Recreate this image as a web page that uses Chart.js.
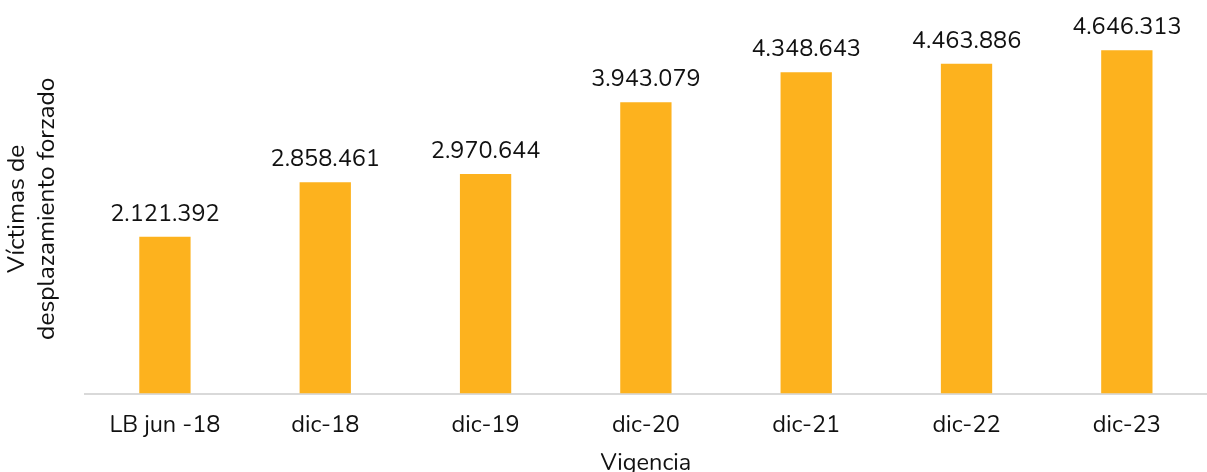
<!DOCTYPE html>
<html>
<head>
<meta charset="utf-8">
<script src="https://cdn.jsdelivr.net/npm/chart.js@4.4.0/dist/chart.umd.min.js"></script>
<style>
  html, body { margin: 0; padding: 0; background: #fff; overflow: hidden; }
  #wrap { width: 1207px; height: 478px; }
</style>
</head>
<body>
<div id="wrap"><canvas id="myChart"></canvas></div>
<script>
const categories = ['LB jun -18', 'dic-18', 'dic-19', 'dic-20', 'dic-21', 'dic-22', 'dic-23'];
const victimas = [2121392, 2858461, 2970644, 3943079, 4348643, 4463886, 4646313];

const fontFamily = "'Nunito', 'Noto Sans', sans-serif";

function fmt(v) {
    return v.toString().replace(/\B(?=(\d{3})+(?!\d))/g, '.');
}

const barLabels = {
    id: 'barLabels',
    afterDatasetsDraw(chart) {
        const ctx = chart.ctx;
        const meta = chart.getDatasetMeta(0);
        ctx.save();
        ctx.font = '23.5px ' + fontFamily;
        ctx.fillStyle = '#111';
        ctx.textAlign = 'center';
        ctx.textBaseline = 'alphabetic';
        meta.data.forEach((bar, i) => {
            ctx.fillText(fmt(victimas[i]), bar.x, bar.y - 16);
        });
        ctx.restore();
    }
};

const ctx = document.getElementById('myChart').getContext('2d');
const myChart = new Chart(ctx, {
    type: 'bar',
    data: {
        labels: categories,
        datasets: [{
            label: 'Víctimas',
            data: victimas,
            backgroundColor: '#FDB21E',
            borderWidth: 0,
            categoryPercentage: 1,
            barPercentage: 0.32
        }]
    },
    options: {
        responsive: true,
        maintainAspectRatio: false,
        animation: false,
        layout: { padding: { top: 24, right: 0, left: 3, bottom: 0 } },
        plugins: {
            legend: { display: false },
            tooltip: { enabled: false }
        },
        scales: {
            x: {
                grid: { display: false },
                border: { display: true, color: '#d9d9d9', width: 2 },
                ticks: { color: '#111', font: { size: 23.5, family: fontFamily }, padding: 11 },
                title: {
                    display: true,
                    text: 'Vigencia',
                    color: '#111',
                    font: { size: 23.5, family: fontFamily },
                    padding: { top: -2, bottom: 0 }
                }
            },
            y: {
                beginAtZero: true,
                max: 5000000,
                grid: { display: false },
                border: { display: false },
                ticks: { display: false },
                title: {
                    display: true,
                    text: ['Víctimas de', 'desplazamiento forzado'],
                    color: '#111',
                    font: { size: 24.5, family: fontFamily, lineHeight: 1.22 },
                    padding: { top: 0, bottom: 14 }
                }
            }
        }
    },
    plugins: [barLabels]
});
</script>
</body>
</html>
